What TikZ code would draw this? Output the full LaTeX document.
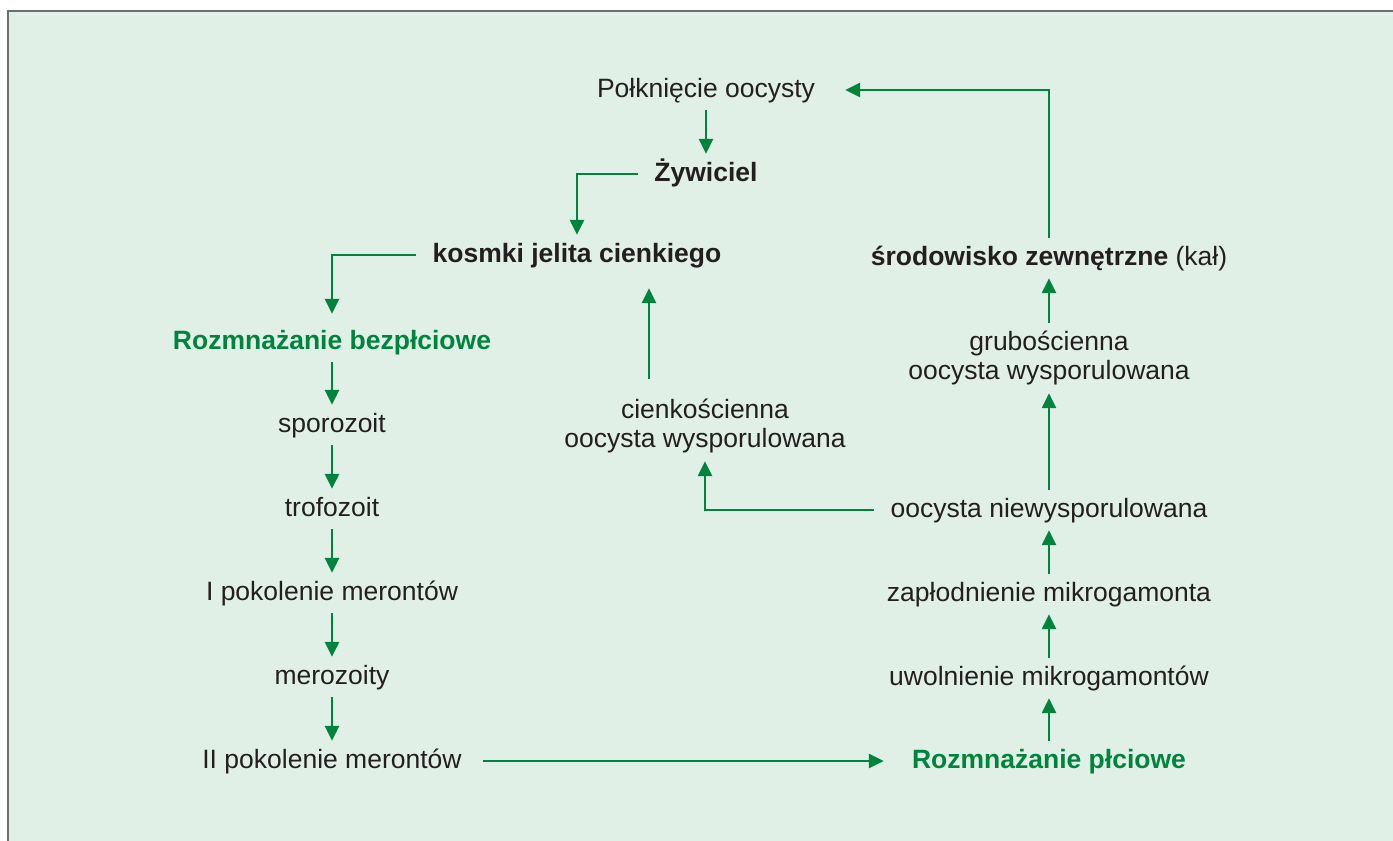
\documentclass[tikz,border=0pt]{standalone}
\usepackage{fontspec}
\setmainfont{Liberation Sans}
\usetikzlibrary{positioning, arrows.meta}

\definecolor{cycgreen}{HTML}{00843D}
\definecolor{cycbg}{HTML}{E0F0E6}
\definecolor{cyctext}{HTML}{231F20}
\definecolor{cycframe}{HTML}{6D6E70}

\begin{document}
\begin{tikzpicture}[x=1pt, y=-1pt, node distance=84pt, on grid,
    >={Triangle[width=14pt, length=15pt]},
    font=\fontsize{26.5}{29}\selectfont,
    stage/.style={text=cyctext, inner xsep=14pt, inner ysep=6pt, text height=19pt, text depth=5pt},
    stagebold/.style={stage, font=\fontsize{26.5}{29}\selectfont\bfseries},
    stagegreen/.style={stagebold, text=cycgreen},
    stagetwo/.style={text=cyctext, inner xsep=14pt, inner ysep=6pt, align=center},
    arr/.style={->, draw=cycgreen, line width=2.5pt, shorten >=2pt, shorten <=2pt}]
    \useasboundingbox (0,0) rectangle (1393,841);
    % Background and frame
    \fill[cycbg] (8,11) rectangle (1393,841);
    \draw[cycframe, line width=2pt] (8,841) -- (8,11) -- (1393,11);

    % Nodes
    \node[stage] (swallow) at (706,90) {Połknięcie oocysty};
    \node[stagebold] (host) [below=of swallow] {Żywiciel};
    \node[stagebold] (villi) at (577,255) {kosmki jelita cienkiego};
    \node[stagegreen] (asex) at (332,342) {Rozmnażanie bezpłciowe};
    \node[stage] (sporo) [below=83pt of asex] {sporozoit};
    \node[stage] (tropho) [below=of sporo] {trofozoit};
    \node[stage] (meront1) [below=of tropho] {I pokolenie merontów};
    \node[stage] (merozo) [below=of meront1] {merozoity};
    \node[stage] (meront2) [below=of merozo] {II pokolenie merontów};
    \node[stagegreen] (sex) at (1049,761) {Rozmnażanie płciowe};
    \node[stage] (release) [above=83pt of sex] {uwolnienie mikrogamontów};
    \node[stage] (fert) [above=of release] {zapłodnienie mikrogamonta};
    \node[stage] (oocyst) [above=of fert] {oocysta niewysporulowana};
    \node[stagetwo] (thick) at (1049,358) {grubościenna\\oocysta wysporulowana};
    \node[stagebold] (env) at (1049,258) {środowisko zewnętrzne \textmd{(kał)}};
    \node[stagetwo] (thin) at (705,426) {cienkościenna\\oocysta wysporulowana};

    % Asexual branch
    \draw[arr] (swallow) -- (host);
    \draw[arr] (host.west) -| (villi);
    \draw[arr, shorten >=10pt] (villi.west) -| (asex);
    \foreach \a/\b in {asex/sporo, sporo/tropho, tropho/meront1, meront1/merozo, merozo/meront2}
        \draw[arr] (\a) -- (\b);
    \draw[arr, shorten <=7pt, shorten >=14pt] (meront2) -- (sex);

    % Sexual branch and back to the host
    \foreach \a/\b in {sex/release, release/fert, fert/oocyst, oocyst/thick, thick/env}
        \draw[arr] (\a) -- (\b);
    \draw[arr, shorten >=16pt] (env) |- (swallow);
    \draw[arr] (oocyst.west) -| (thin);
    \draw[arr, shorten <=14pt, shorten >=15pt] ([xshift=-56pt]thin.north) -- ([xshift=72pt]villi.south);
\end{tikzpicture}
\end{document}
